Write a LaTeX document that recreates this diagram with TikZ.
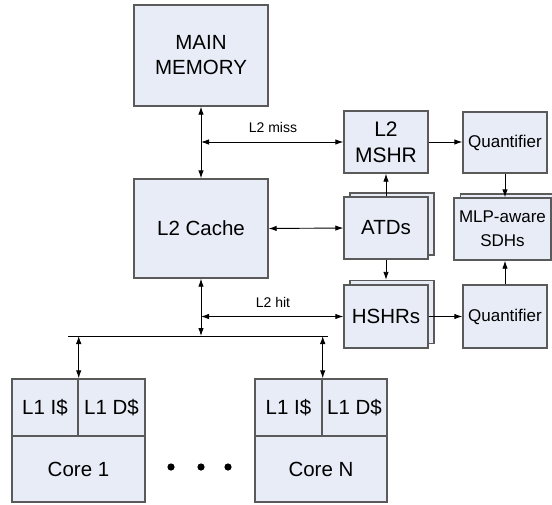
\documentclass[tikz,border=0pt]{standalone}
\usepackage{fontspec}
\setmainfont{Liberation Sans}
\usetikzlibrary{arrows.meta, positioning, calc}
\definecolor{boxfill}{RGB}{231,236,247}
\definecolor{boxline}{RGB}{90,90,90}
\tikzset{
  blk/.style={draw=boxline, fill=boxfill, line width=1.4pt, inner sep=0pt, align=center,
    font=\fontsize{20.5}{25}\selectfont},
  smallblk/.style={blk, font=\fontsize{17}{24}\selectfont},
  dlink/.style={line width=0.9pt, {Latex[length=8pt,width=5.5pt]}-{Latex[length=8pt,width=5.5pt]}},
  slink/.style={line width=0.9pt, -{Latex[length=8pt,width=5.5pt]}},
  lbl/.style={font=\fontsize{14}{16}\selectfont, inner sep=0pt},
}

\begin{document}
\begin{tikzpicture}[x=1pt, y=-1pt]
    \useasboundingbox (0,0) rectangle (552,504);

    % main memory and L2 cache
    \node[blk, minimum width=134pt, minimum height=101pt] (mem) at (201,55.5) {MAIN\\MEMORY};
    \node[blk, minimum width=134pt, minimum height=99pt] (cache) at (201,228.5) {L2 Cache};

    % MSHR, ATDs, HSHRs
    \node[blk, font=\fontsize{21}{26}\selectfont, minimum width=84pt, minimum height=62pt] (mshr) at (386,142) {L2\\MSHR};
    \node[blk, minimum width=84pt, minimum height=62pt] (atdB) at (392,224) {};
    \node[blk, minimum width=84pt, minimum height=62pt] (atd) at (386,228) {ATDs};
    \node[blk, minimum width=84pt, minimum height=63pt] (hshrB) at (392,312) {};
    \node[blk, minimum width=84pt, minimum height=63pt] (hshr) at (386,316.5) {HSHRs};

    % quantifiers and SDHs
    \node[smallblk, minimum width=84pt, minimum height=61pt] (qtop) at (505,142.5) {Quantifier};
    \node[smallblk, minimum width=97pt, minimum height=62pt] (sdhB) at (509,225) {};
    \node[smallblk, minimum width=97pt, minimum height=62pt] (sdh) at (502.5,229) {MLP-aware\\SDHs};
    \node[smallblk, minimum width=84pt, minimum height=63pt] (qbot) at (505,316.5) {Quantifier};

    % cores
    \node[blk, minimum width=66pt, minimum height=57pt] (icA) at (45,407.5) {L1 I\$};
    \node[blk, minimum width=67pt, minimum height=57pt] (dcA) at (111.5,407.5) {L1 D\$};
    \node[blk, minimum width=133pt, minimum height=66pt] (coreA) at (78.5,469) {Core 1};
    \node[blk, minimum width=67pt, minimum height=57pt] (icN) at (288.5,407.5) {L1 I\$};
    \node[blk, minimum width=65pt, minimum height=57pt] (dcN) at (354.5,407.5) {L1 D\$};
    \node[blk, minimum width=132pt, minimum height=66pt] (coreN) at (321,469) {Core N};
    \foreach \x in {171,201,228}
        \fill (\x,467) circle (3.6pt);

    % bus
    \coordinate (busL) at (68,336);
    \coordinate (busR) at (328,336);
    \draw[line width=0.9pt] (busL) -- (busR);
    \draw[dlink] (cache.south) -- (cache.south |- busL);
    \draw[dlink] (icA.north east |- busL) -- (icA.north east);
    \draw[dlink] (icN.north east |- busL) -- (icN.north east);

    % connectors
    \draw[dlink] (mem.south) -- (cache.north);
    \coordinate (missJ) at (mem.south |- mshr.west);
    \draw[dlink] (missJ) -- (mshr.west);
    \node[lbl, anchor=base] (misslbl) at (273,132) {L2 miss};
    \coordinate (hitJ) at (cache.south |- hshr.west);
    \draw[dlink] (hitJ) -- (hshr.west);
    \node[lbl, anchor=base] (hitlbl) at (273,307) {L2 hit};
    \draw[dlink] (cache.east) -- (atd.west);
    \draw[slink] (atd.north) -- (mshr.south);
    \draw[slink] (atd.south) -- (atd.south |- hshrB.north);
    \draw[slink] (mshr.east) -- (mshr.east -| qtop.west);
    \draw[slink] (hshr.east) -- (hshr.east -| qbot.west);
    \draw[slink] (qtop.south) -- (qtop.south |- sdh.north);
    \draw[slink] (qbot.north) -- (qbot.north |- sdh.south);
\end{tikzpicture}
\end{document}
